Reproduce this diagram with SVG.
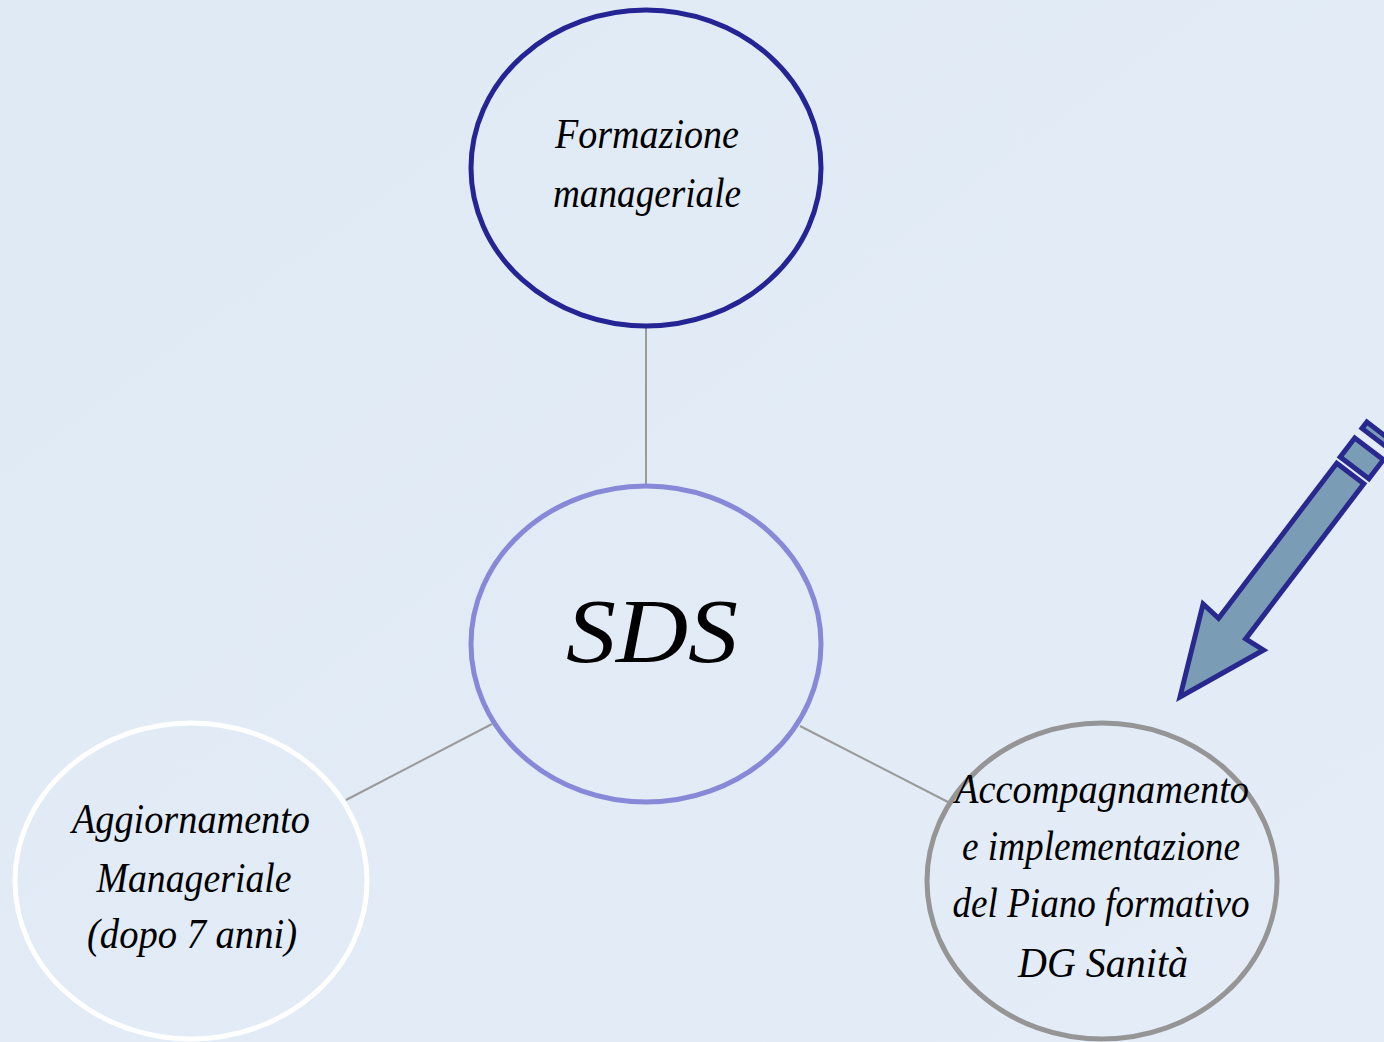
<svg xmlns="http://www.w3.org/2000/svg" width="1384" height="1042" viewBox="0 0 1384 1042">
<defs>
<linearGradient id="bg" x1="0" y1="0" x2="1" y2="1">
<stop offset="0" stop-color="#e0eaf5"/>
<stop offset="1" stop-color="#e3ecf7"/>
</linearGradient>
<style>
.t{font-family:"Liberation Serif","DejaVu Serif",serif;font-style:italic;fill:#000;text-anchor:middle;font-size:42px}
.c{fill:none;stroke-width:5}
.con{stroke:#9a9a9a;stroke-width:2;fill:none}
.arr{fill:#7a9db5;stroke:#28288f;stroke-width:5;stroke-linejoin:miter}
</style>
</defs>
<rect width="1384" height="1042" fill="url(#bg)"/>
<g id="connectors">
<line class="con" x1="646" y1="328" x2="646" y2="486"/>
<line class="con" x1="492" y1="724" x2="346" y2="800"/>
<line class="con" x1="800" y1="726" x2="948" y2="802"/>
</g>
<g id="node-formazione">
<ellipse class="c" cx="646" cy="168" rx="175" ry="158" stroke="#242494"/>
<text class="t" x="647" y="148" textLength="184" lengthAdjust="spacingAndGlyphs">Formazione</text>
<text class="t" x="647" y="207" textLength="188" lengthAdjust="spacingAndGlyphs">manageriale</text>
</g>
<g id="node-sds">
<ellipse class="c" cx="646" cy="644" rx="175" ry="158" stroke="#8888d8" stroke-width="4"/>
<text class="t" x="652" y="662" style="font-size:92px" textLength="172" lengthAdjust="spacingAndGlyphs">SDS</text>
</g>
<g id="node-aggiornamento">
<ellipse class="c" cx="191" cy="881" rx="176" ry="158" stroke="#ffffff"/>
<text class="t" x="191" y="833" textLength="238" lengthAdjust="spacingAndGlyphs">Aggiornamento</text>
<text class="t" x="194" y="892" textLength="195" lengthAdjust="spacingAndGlyphs">Manageriale</text>
<text class="t" x="192" y="948" textLength="210" lengthAdjust="spacingAndGlyphs">(dopo 7 anni)</text>
</g>
<g id="node-accompagnamento">
<ellipse class="c" cx="1102" cy="881" rx="175" ry="158" stroke="#959595"/>
<text class="t" x="1102" y="803" textLength="294" lengthAdjust="spacingAndGlyphs">Accompagnamento</text>
<text class="t" x="1101" y="860" textLength="278" lengthAdjust="spacingAndGlyphs">e implementazione</text>
<text class="t" x="1101" y="917" textLength="297" lengthAdjust="spacingAndGlyphs">del Piano formativo</text>
<text class="t" x="1103" y="977" textLength="170" lengthAdjust="spacingAndGlyphs">DG Sanità</text>
</g>
<g id="pencil-arrow" transform="translate(1180,697) rotate(-52.7)">
<polygon class="arr" points="0,0 88,-38 86,-17 281,-17 281,17 86,17 88,38"/>
<rect class="arr" x="288" y="-18" width="24" height="36"/>
<rect class="arr" x="324" y="-18" width="8" height="36"/>
</g>
</svg>
